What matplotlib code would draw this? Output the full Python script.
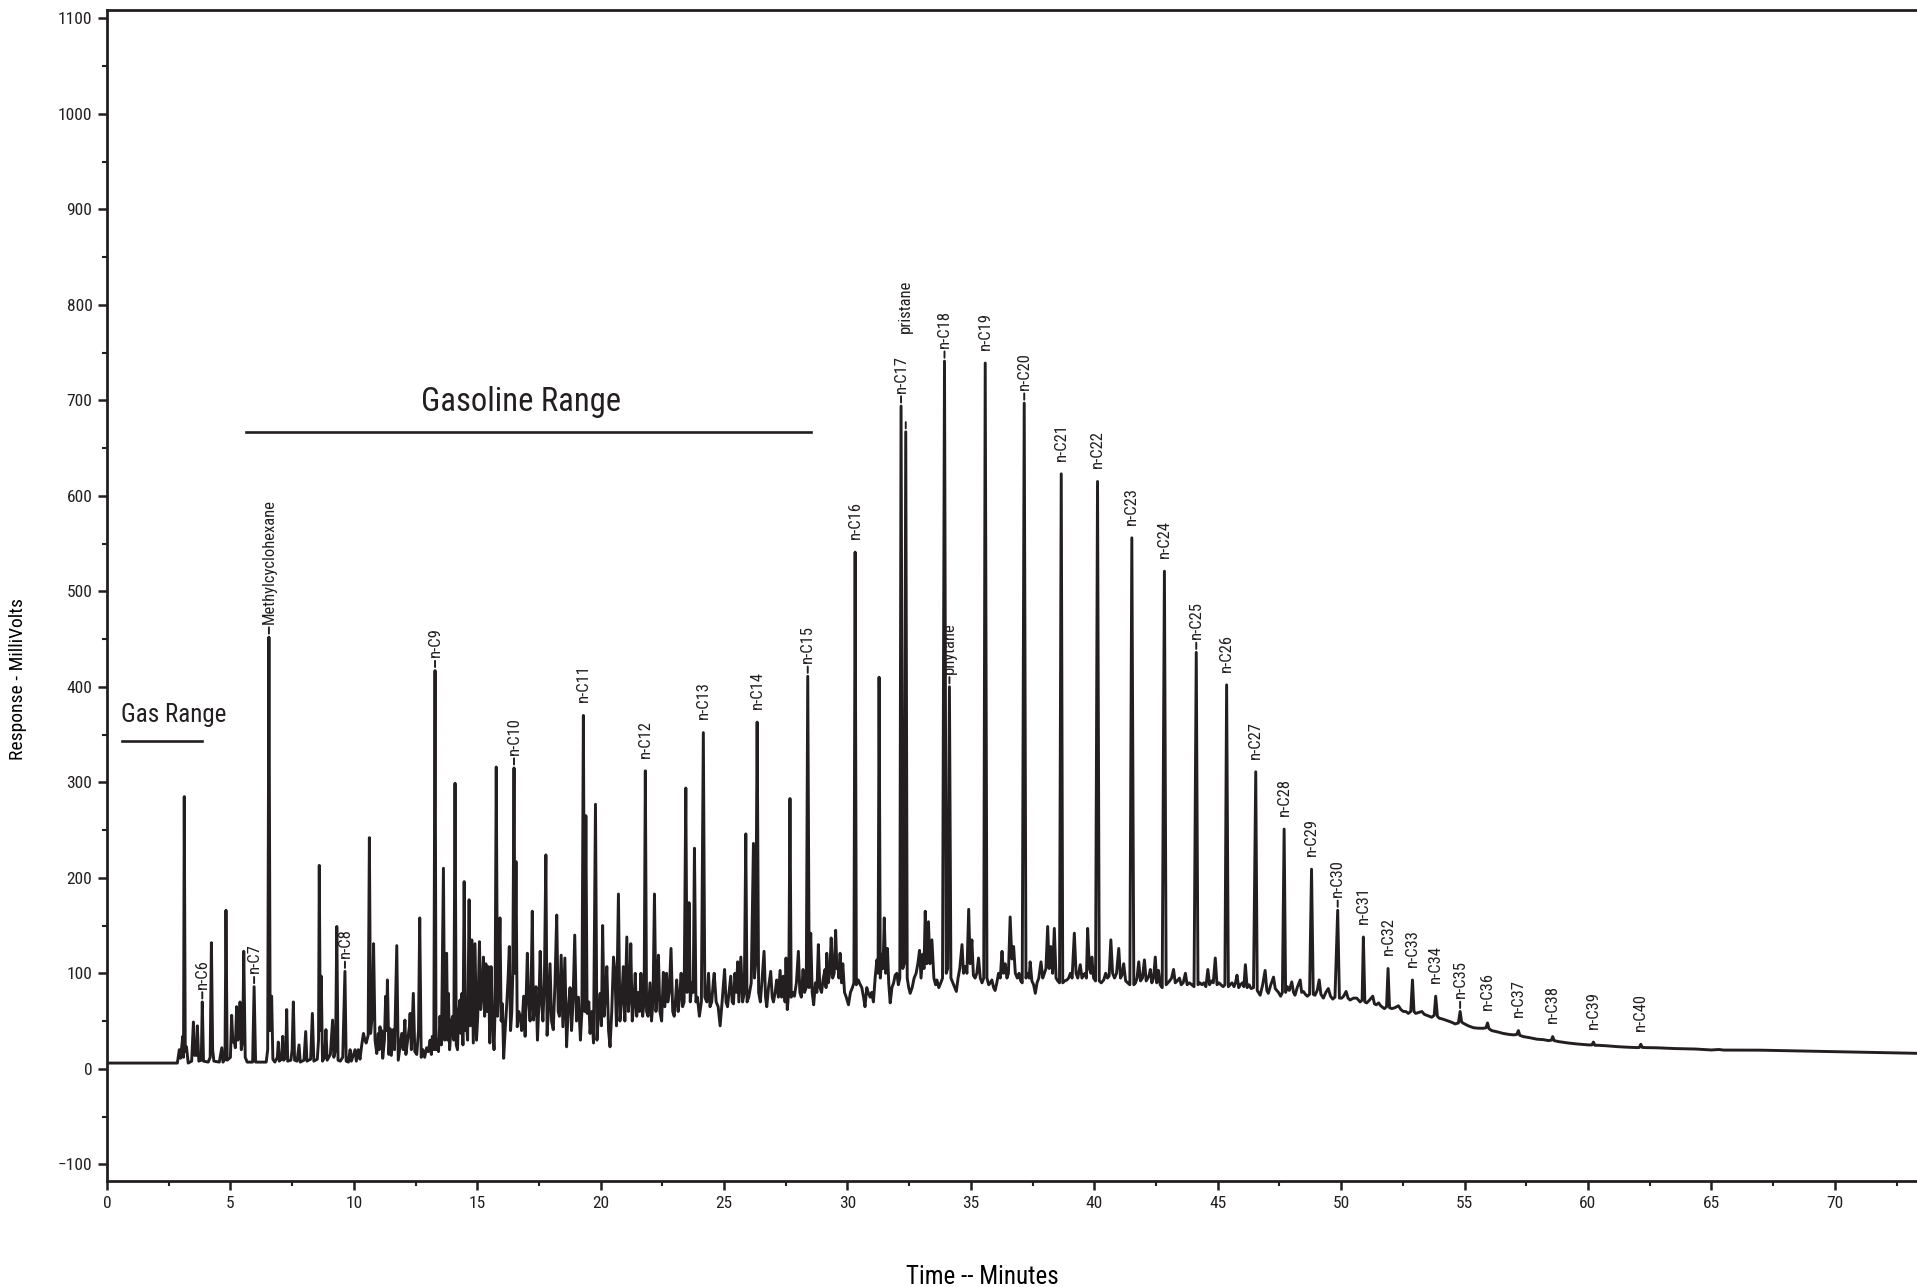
import numpy as np
import matplotlib
matplotlib.use('Agg')
import matplotlib.pyplot as plt
from matplotlib import font_manager
from matplotlib.ticker import MultipleLocator

INK = '#231f20'

# chromatogram trace: (time in min, response in mV)
trace_gas = [
    (0.0, 6), (1.5, 6), (2.85, 6), (2.93, 20), (2.98, 11), (3.07, 34), (3.10, 12),
    (3.13, 285), (3.17, 18), (3.22, 23), (3.29, 6), (3.43, 8), (3.50, 49), (3.55, 14),
    (3.60, 22), (3.63, 14), (3.66, 45), (3.72, 8), (3.82, 9), (3.86, 70), (3.91, 8),
    (4.10, 7), (4.18, 12), (4.23, 132), (4.28, 20), (4.33, 8), (4.55, 7), (4.65, 22),
    (4.70, 7), (4.78, 10), (4.82, 166), (4.87, 9), (5.00, 12), (5.05, 56), (5.10, 28),
    (5.15, 30), (5.20, 22), (5.25, 65), (5.30, 30), (5.35, 35), (5.39, 70), (5.44, 20),
    (5.50, 30), (5.54, 123), (5.60, 12), (5.68, 7), (5.90, 7), (5.96, 86), (6.02, 7),
    (6.45, 7), (6.51, 20), (6.56, 452), (6.61, 40), (6.67, 76), (6.72, 10), (6.80, 7),
    (6.90, 12), (6.94, 28), (6.98, 8), (7.07, 10), (7.12, 34), (7.16, 9), (7.24, 12),
    (7.28, 62), (7.32, 8), (7.45, 9), (7.50, 20), (7.55, 70), (7.60, 9), (7.70, 8),
    (7.78, 25), (7.83, 7), (7.98, 9), (8.05, 39), (8.10, 8), (8.25, 10), (8.32, 58),
    (8.38, 8), (8.52, 10), (8.57, 30), (8.60, 213), (8.64, 40), (8.68, 97), (8.73, 8),
    (8.82, 12), (8.87, 41), (8.92, 9), (9.05, 15), (9.14, 51), (9.19, 12), (9.26, 20),
    (9.31, 149), (9.36, 9), (9.45, 8), (9.55, 12), (9.64, 102), (9.69, 8), (9.78, 7),
    (9.85, 20), (9.90, 8), (10.05, 20), (10.10, 8), (10.18, 20), (10.25, 10),
    (10.32, 25), (10.39, 37), (10.45, 30), (10.50, 27), (10.58, 35), (10.63, 242),
    (10.68, 37),
]

trace_gasoline = [
    (10.76, 60), (10.80, 131), (10.86, 30), (10.93, 16), (10.99, 37), (11.03, 20),
    (11.06, 44), (11.10, 25), (11.13, 40), (11.17, 11), (11.24, 30), (11.29, 76),
    (11.33, 40), (11.36, 93), (11.42, 15), (11.47, 42), (11.52, 14), (11.60, 41),
    (11.65, 20), (11.74, 129), (11.80, 9), (11.88, 25), (11.94, 37), (12.00, 20),
    (12.07, 51), (12.11, 15), (12.18, 30), (12.25, 44), (12.28, 58), (12.33, 20),
    (12.41, 79), (12.47, 18), (12.55, 15), (12.62, 40), (12.67, 158), (12.73, 12),
    (12.80, 20), (12.87, 12), (12.95, 22), (13.02, 18), (13.09, 30), (13.14, 15),
    (13.18, 34), (13.24, 20), (13.29, 417), (13.33, 20), (13.38, 30), (13.43, 18),
    (13.49, 55), (13.55, 25), (13.63, 210), (13.68, 30), (13.76, 121), (13.80, 30),
    (13.83, 79), (13.88, 20), (13.96, 50), (14.00, 55), (14.05, 30), (14.10, 299),
    (14.15, 25), (14.20, 20), (14.25, 60), (14.30, 72), (14.34, 37), (14.38, 79),
    (14.42, 25), (14.47, 196), (14.52, 40), (14.56, 48), (14.61, 30), (14.67, 177),
    (14.72, 45), (14.78, 135), (14.84, 27), (14.91, 131), (14.97, 30), (15.02, 55),
    (15.09, 133), (15.14, 62), (15.20, 80), (15.25, 117), (15.30, 55), (15.35, 110),
    (15.40, 60), (15.45, 107), (15.51, 27), (15.56, 107), (15.62, 50), (15.68, 20),
    (15.72, 60), (15.77, 316), (15.82, 55), (15.87, 90), (15.92, 158), (15.97, 50),
    (16.02, 68), (16.07, 11), (16.13, 40), (16.19, 65), (16.25, 95), (16.30, 128),
    (16.35, 40), (16.40, 60), (16.44, 100), (16.49, 315), (16.53, 100), (16.57, 217),
    (16.62, 44), (16.68, 60), (16.74, 55), (16.80, 40), (16.88, 76), (16.94, 34),
    (17.03, 121), (17.08, 72), (17.14, 50), (17.18, 80), (17.23, 165), (17.28, 51),
    (17.33, 70), (17.38, 86), (17.44, 30), (17.50, 70), (17.55, 123), (17.61, 69),
    (17.66, 50), (17.72, 90), (17.78, 224), (17.83, 35), (17.88, 60), (17.95, 110),
    (18.01, 50), (18.08, 41), (18.15, 90), (18.22, 161), (18.28, 60), (18.33, 55),
    (18.40, 119), (18.47, 44), (18.55, 116), (18.62, 23), (18.68, 60), (18.76, 85),
    (18.82, 40), (18.88, 70), (18.95, 140), (19.02, 50), (19.10, 75), (19.18, 30),
    (19.24, 60), (19.30, 370), (19.35, 60), (19.40, 265), (19.45, 58), (19.52, 70),
    (19.57, 37), (19.64, 60), (19.71, 27), (19.79, 277), (19.85, 30), (19.92, 60),
    (19.98, 79), (20.03, 45), (20.08, 150), (20.14, 55), (20.20, 80), (20.25, 107),
    (20.32, 40), (20.38, 23), (20.45, 60), (20.52, 117), (20.58, 100), (20.64, 45),
    (20.72, 183), (20.78, 50), (20.85, 70), (20.92, 107), (20.98, 50), (21.06, 138),
    (21.12, 60), (21.18, 80), (21.22, 131), (21.28, 50), (21.35, 70), (21.40, 100),
    (21.46, 55), (21.53, 80), (21.58, 60), (21.63, 100), (21.70, 55), (21.76, 70),
]

trace_middle = [
    (21.81, 312), (21.86, 60), (21.92, 55), (22.00, 90), (22.06, 50), (22.12, 70),
    (22.18, 183), (22.24, 60), (22.28, 75), (22.34, 119), (22.40, 60), (22.47, 50),
    (22.54, 101), (22.60, 65), (22.67, 100), (22.72, 70), (22.78, 80), (22.85, 126),
    (22.92, 60), (22.98, 55), (23.04, 75), (23.08, 93), (23.14, 60), (23.20, 75),
    (23.26, 100), (23.32, 65), (23.38, 70), (23.45, 294), (23.50, 80), (23.55, 100),
    (23.58, 174), (23.63, 70), (23.70, 90), (23.75, 80), (23.80, 231), (23.86, 70),
    (23.92, 75), (24.00, 55), (24.08, 70), (24.16, 352), (24.22, 75), (24.30, 70),
    (24.37, 100), (24.43, 65), (24.50, 70), (24.57, 93), (24.60, 100), (24.68, 70),
    (24.76, 65), (24.84, 45), (24.92, 70), (25.02, 104), (25.08, 70), (25.14, 65),
    (25.20, 80), (25.27, 97), (25.33, 70), (25.38, 68), (25.44, 100), (25.50, 80),
    (25.55, 112), (25.60, 70), (25.68, 117), (25.75, 70), (25.82, 80), (25.88, 246),
    (25.93, 70), (26.00, 75), (26.10, 90), (26.19, 236), (26.23, 95), (26.28, 110),
    (26.34, 363), (26.40, 80), (26.47, 70), (26.53, 90), (26.62, 123), (26.68, 75),
    (26.73, 65), (26.80, 85), (26.89, 102), (26.95, 75), (27.00, 70), (27.07, 80),
    (27.13, 93), (27.20, 75), (27.27, 103), (27.33, 75), (27.40, 97), (27.47, 70),
    (27.51, 116), (27.56, 62), (27.62, 80), (27.67, 283), (27.72, 75), (27.78, 80),
    (27.85, 76), (27.93, 90), (28.01, 123), (28.07, 80), (28.13, 75), (28.20, 104),
    (28.26, 80), (28.33, 85), (28.39, 411), (28.45, 85), (28.51, 142), (28.57, 80),
    (28.63, 67), (28.70, 90), (28.76, 80), (28.82, 130), (28.88, 85), (28.95, 80),
    (29.02, 95), (29.09, 104), (29.13, 85), (29.16, 121), (29.22, 90), (29.28, 100),
    (29.34, 137), (29.40, 95), (29.46, 100), (29.52, 145), (29.57, 105), (29.61, 110),
    (29.65, 95), (29.70, 121), (29.76, 90), (29.81, 110), (29.88, 80), (29.95, 75),
    (30.04, 67), (30.12, 80), (30.20, 85), (30.26, 90), (30.31, 541), (30.36, 88),
    (30.44, 93), (30.50, 89), (30.58, 85), (30.65, 75), (30.71, 65), (30.78, 85),
    (30.85, 79), (30.92, 75), (30.98, 80), (31.05, 70), (31.12, 95), (31.19, 114),
    (31.24, 100), (31.28, 410), (31.33, 95), (31.40, 120), (31.44, 105), (31.49, 158),
    (31.55, 100), (31.62, 126), (31.67, 90), (31.73, 69), (31.80, 85), (31.87, 90),
    (31.93, 98), (32.00, 100), (32.06, 88), (32.12, 95), (32.17, 694), (32.24, 105),
    (32.30, 110), (32.36, 667), (32.42, 95), (32.48, 85), (32.54, 79),
]

trace_heavy = [
    (32.62, 85), (32.70, 95), (32.78, 100), (32.85, 110), (32.92, 124), (32.98, 95),
    (33.05, 120), (33.10, 105), (33.15, 165), (33.21, 110), (33.28, 154), (33.34, 110),
    (33.42, 135), (33.50, 95), (33.57, 88), (33.62, 93), (33.70, 85), (33.78, 90),
    (33.85, 95), (33.93, 741), (34.00, 100), (34.06, 105), (34.13, 400), (34.19, 95),
    (34.27, 90), (34.35, 85), (34.41, 81), (34.48, 95), (34.55, 105), (34.64, 130),
    (34.70, 100), (34.77, 107), (34.84, 100), (34.91, 167), (34.97, 110), (35.04, 135),
    (35.10, 98), (35.17, 95), (35.24, 100), (35.31, 116), (35.38, 95), (35.45, 90),
    (35.52, 95), (35.58, 739), (35.65, 95), (35.72, 88), (35.79, 90), (35.85, 93),
    (35.92, 85), (35.98, 82), (36.05, 90), (36.12, 100), (36.19, 95), (36.26, 123),
    (36.32, 100), (36.39, 110), (36.46, 95), (36.52, 100), (36.59, 159), (36.66, 115),
    (36.73, 128), (36.80, 100), (36.88, 95), (36.95, 100), (37.02, 92), (37.08, 90),
    (37.16, 697), (37.23, 95), (37.30, 100), (37.36, 95), (37.40, 112), (37.47, 92),
    (37.54, 88), (37.61, 79), (37.68, 90), (37.75, 95), (37.84, 112), (37.91, 95),
    (37.98, 100), (38.04, 105), (38.11, 149), (38.17, 105), (38.24, 128), (38.31, 100),
    (38.38, 147), (38.45, 95), (38.52, 92), (38.59, 90), (38.66, 623), (38.72, 90),
    (38.80, 92), (38.89, 93), (38.96, 95), (39.03, 100), (39.10, 95), (39.19, 142),
    (39.26, 100), (39.33, 95), (39.43, 109), (39.50, 95), (39.56, 98), (39.62, 100),
    (39.68, 95), (39.73, 147), (39.80, 105), (39.86, 100), (39.90, 117), (39.97, 95),
    (40.05, 92), (40.13, 615), (40.20, 92), (40.28, 90), (40.38, 93), (40.46, 100),
    (40.53, 95), (40.60, 97), (40.67, 135), (40.74, 100), (40.82, 95), (40.90, 100),
    (40.99, 126), (41.06, 95), (41.12, 98), (41.19, 110), (41.27, 92), (41.35, 90),
    (41.44, 88), (41.52, 556), (41.60, 88), (41.67, 90), (41.73, 95), (41.80, 112),
    (41.87, 92), (41.95, 95), (42.03, 114), (42.10, 92), (42.17, 95), (42.22, 98),
    (42.27, 104), (42.33, 90), (42.40, 95), (42.47, 117), (42.53, 90), (42.60, 103),
    (42.67, 88), (42.75, 85), (42.84, 521), (42.91, 88), (42.98, 90), (43.05, 92),
    (43.13, 95), (43.21, 104), (43.28, 90), (43.36, 92), (43.45, 95), (43.52, 88),
    (43.60, 90), (43.69, 100), (43.76, 88), (43.85, 90), (43.95, 88), (44.04, 86),
    (44.13, 436), (44.20, 88), (44.28, 90), (44.36, 88), (44.44, 90), (44.52, 86),
    (44.60, 104), (44.67, 88), (44.75, 92), (44.82, 90), (44.90, 116), (44.97, 88),
    (45.05, 90), (45.13, 88), (45.22, 86), (45.29, 88), (45.36, 402), (45.43, 86),
    (45.50, 88), (45.58, 90), (45.66, 86), (45.72, 90), (45.78, 98), (45.85, 85),
    (45.92, 88), (46.00, 90), (46.06, 86), (46.12, 109), (46.19, 85), (46.27, 88),
    (46.35, 84), (46.45, 85),
]

trace_tail = [
    (46.54, 311), (46.60, 82), (46.72, 77), (46.82, 88), (46.92, 103), (46.99, 82),
    (47.05, 79), (47.15, 88), (47.26, 96), (47.33, 84), (47.46, 80), (47.55, 76),
    (47.62, 80), (47.69, 251), (47.75, 80), (47.82, 86), (47.90, 82), (48.00, 91),
    (48.07, 80), (48.13, 77), (48.22, 85), (48.34, 93), (48.40, 80), (48.47, 81),
    (48.55, 78), (48.63, 76), (48.72, 78), (48.80, 209), (48.87, 78), (48.94, 77),
    (49.03, 82), (49.11, 93), (49.18, 78), (49.28, 74), (49.38, 80), (49.48, 84),
    (49.57, 76), (49.66, 73), (49.75, 75), (49.86, 166), (49.93, 74), (50.02, 74),
    (50.10, 76), (50.20, 81), (50.28, 74), (50.36, 72), (50.50, 74), (50.63, 74),
    (50.77, 70), (50.85, 72), (50.90, 138), (50.96, 70), (51.04, 69), (51.15, 72),
    (51.28, 76), (51.35, 68), (51.42, 67), (51.52, 69), (51.60, 66), (51.75, 63),
    (51.84, 65), (51.90, 105), (51.96, 64), (52.05, 63), (52.18, 64), (52.32, 66),
    (52.42, 62), (52.52, 60), (52.62, 60), (52.72, 58), (52.82, 60), (52.89, 93),
    (52.95, 60), (53.02, 58), (53.15, 59), (53.27, 60), (53.37, 57), (53.47, 56),
    (53.57, 55), (53.67, 54), (53.77, 56), (53.83, 76), (53.90, 55), (53.97, 53),
    (54.12, 52), (54.28, 50.5), (54.45, 49), (54.62, 47), (54.75, 48), (54.82, 60),
    (54.88, 49), (54.95, 47.7), (55.15, 45), (55.36, 43), (55.55, 42.5), (55.76, 42.4),
    (55.87, 43), (55.93, 48), (55.99, 42), (56.10, 40), (56.35, 38.5), (56.57, 37),
    (56.80, 36), (56.98, 35.5), (57.12, 36), (57.18, 40), (57.24, 35), (57.38, 33.7),
    (57.65, 32.5), (57.93, 31), (58.20, 30.5), (58.40, 29.5), (58.52, 30), (58.57, 33.7),
    (58.63, 29.5), (58.80, 28.5), (59.20, 27), (59.55, 26), (59.80, 25.5), (60.02, 25),
    (60.16, 25), (60.22, 28), (60.28, 24.6), (60.42, 24.6), (60.80, 24), (61.17, 23.2),
    (61.60, 22.6), (61.98, 22.2), (62.08, 22.3), (62.14, 25.7), (62.20, 22.4),
    (62.31, 22.2), (62.79, 22), (63.50, 21.2), (64.35, 20.7), (65.00, 19.7),
    (65.30, 20.2), (65.50, 19.6), (66.98, 19.5), (68.50, 18.7), (70.02, 18),
    (71.50, 17.2), (73.33, 16.2),
]

# named peaks
label_names = ['n-C6', 'n-C7', 'Methylcyclohexane', 'n-C8', 'n-C9', 'n-C10', 'n-C11',
               'n-C12', 'n-C13', 'n-C14', 'n-C15', 'n-C16', 'n-C17', 'pristane',
               'n-C18', 'phytane', 'n-C19', 'n-C20', 'n-C21', 'n-C22', 'n-C23',
               'n-C24', 'n-C25', 'n-C26', 'n-C27', 'n-C28', 'n-C29', 'n-C30',
               'n-C31', 'n-C32', 'n-C33', 'n-C34', 'n-C35', 'n-C36', 'n-C37',
               'n-C38', 'n-C39', 'n-C40']
label_times = [3.86, 5.96, 6.56, 9.64, 13.29, 16.49, 19.30, 21.81, 24.16, 26.34,
               28.39, 30.31, 32.17, 32.36, 33.93, 34.13, 35.58, 37.16, 38.66, 40.13,
               41.52, 42.84, 44.13, 45.36, 46.54, 47.69, 48.80, 49.86, 50.90, 51.90,
               52.89, 53.83, 54.82, 55.93, 57.18, 58.57, 60.22, 62.14]
dashed = ['n-C6', 'n-C7', 'Methylcyclohexane', 'n-C8', 'n-C9', 'n-C10', 'n-C15',
          'n-C17', 'pristane', 'n-C18', 'phytane', 'n-C20', 'n-C25', 'n-C30', 'n-C35']

# pick a condensed face if one is installed
installed = {f.name for f in font_manager.fontManager.ttflist}
narrow = [n for n in ['Liberation Sans Narrow', 'Roboto Condensed'] if n in installed]
plt.rcParams['font.family'] = narrow[:1] + ['DejaVu Sans']
if not narrow:
    plt.rcParams['font.stretch'] = 'condensed'
plt.rcParams['text.color'] = INK
plt.rcParams['xtick.color'] = INK
plt.rcParams['ytick.color'] = INK

pts = np.array(trace_gas + trace_gasoline + trace_middle + trace_heavy + trace_tail)
pts = pts[np.argsort(pts[:, 0], kind='stable')]
t, v = pts[:, 0], pts[:, 1]

fig = plt.figure(figsize=(19.17, 12.87), dpi=100)
ax = fig.add_axes([107 / 1917, 1 - 1181 / 1287, 1810 / 1917, 1171 / 1287])

ax.plot(t, v, color=INK, lw=2.1)

for name, lt in zip(label_names, label_times):
    near = np.abs(t - lt) < 0.03
    top = v[near].max()
    lift = 71 if name == 'pristane' else 9.5
    ax.annotate(name, xy=(lt, top), xytext=(0, lift), textcoords='offset points',
                rotation=90, ha='center', va='bottom', fontsize=12)
    if name in dashed:
        ax.annotate('', xy=(lt, top), xytext=(0, 7), textcoords='offset points',
                    arrowprops=dict(arrowstyle='-', color=INK, lw=1.4,
                                    shrinkA=0, shrinkB=2.5))

# range markers
ax.plot([0.6, 3.84], [343, 343], color=INK, lw=1.9)
ax.text(0.57, 363, 'Gas Range', fontsize=18, va='baseline')
ax.plot([5.62, 28.51], [667, 667], color=INK, lw=1.9)
ax.text(16.77, 689, 'Gasoline Range', fontsize=23.5, ha='center', va='baseline')

ax.set_xlim(0, 73.33)
ax.set_ylim(-117.5, 1108.7)
ax.xaxis.set_major_locator(MultipleLocator(5))
ax.xaxis.set_minor_locator(MultipleLocator(2.5))
ax.yaxis.set_major_locator(MultipleLocator(100))
ax.yaxis.set_minor_locator(MultipleLocator(50))
ax.tick_params(which='major', direction='out', length=6.5, width=1.8, labelsize=12.5, pad=4)
ax.tick_params(which='minor', direction='out', length=3.5, width=1.5)
ax.spines['right'].set_visible(False)
for s in ['left', 'bottom', 'top']:
    ax.spines[s].set_linewidth(2)
    ax.spines[s].set_color(INK)

ax.set_xlabel('Time -- Minutes', fontsize=18)
ax.xaxis.set_label_coords(0.4837, -0.072)
ax.set_ylabel('Response - MilliVolts', fontsize=14)
ax.yaxis.set_label_coords(-0.0442, 0.429)

fig.savefig('out.png', dpi=100)
